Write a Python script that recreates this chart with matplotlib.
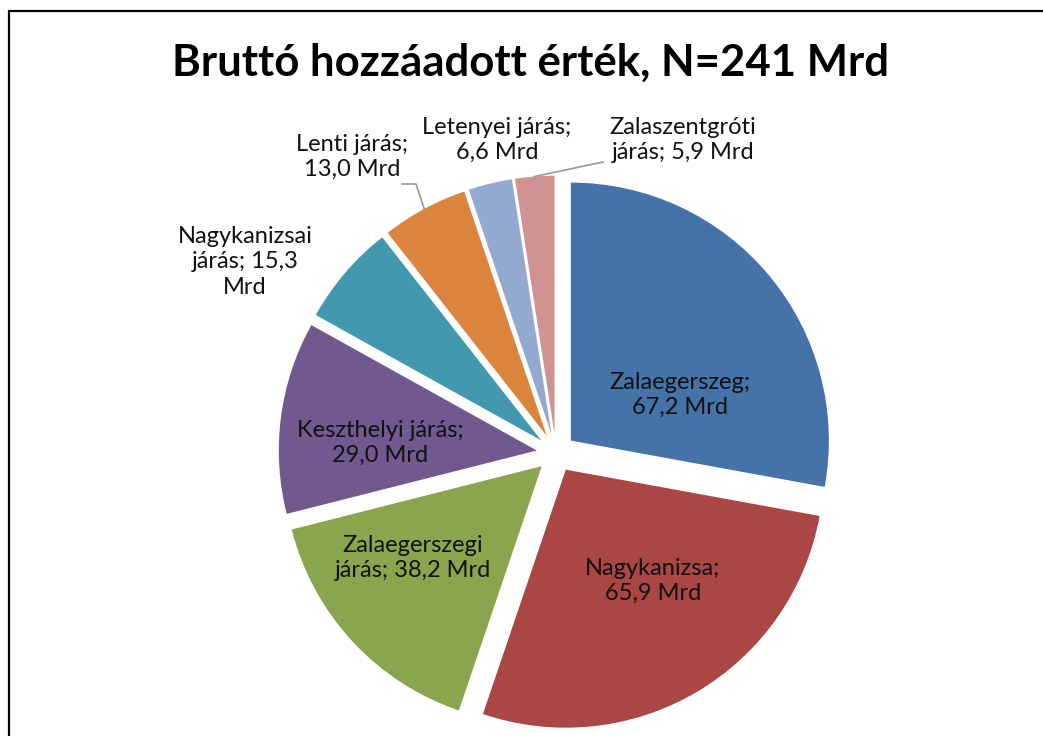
import textwrap

import numpy as np
import matplotlib.pyplot as plt
from matplotlib.patches import Rectangle

# data (billion HUF, gross value added)
names = ["Zalaegerszeg", "Nagykanizsa", "Zalaegerszegi járás", "Keszthelyi járás",
         "Nagykanizsai járás", "Lenti járás", "Letenyei járás", "Zalaszentgróti járás"]
values = [67.2, 65.9, 38.2, 29.0, 15.3, 13.0, 6.6, 5.9]
colors = ["#4572A7", "#AA4643", "#89A54E", "#71588F",
          "#4198AF", "#DB843D", "#93A9CF", "#D19392"]
title = "Bruttó hozzáadott érték, N=241 Mrd"

# layout (pixels, y measured from top)
W, H = 1043, 736
center = (556, 453)
radius = 258
explode = 0.075
wrap_widths = [13, 13, 15, 17, 12, 12, 15, 15]
label_pos = [(680, 395), (653, 581), (413, 558), (380, 443),
             (245, 262), (352, 157), (497, 140), (683, 140)]
# leader lines: label index -> elbow point near the label
leaders = {5: (416, 184), 7: (603, 162)}

plt.rcParams["font.family"] = ["Lato", "DejaVu Sans"]

fig = plt.figure(figsize=(W / 100, H / 100), dpi=100)
ax = fig.add_axes([0, 0, 1, 1])

# explode offsets are in data units, so scale by the radius
wedges, _ = ax.pie(values, colors=colors, startangle=90, counterclock=False,
                   explode=[explode * radius] * len(values), radius=radius,
                   center=(center[0], H - center[1]))
ax.set_xlim(0, W)
ax.set_ylim(0, H)
ax.set_aspect("equal")
ax.axis("off")

for i, (name, v) in enumerate(zip(names, values)):
    txt = textwrap.fill(f"{name}; {v:.1f}".replace(".", ",") + " Mrd", wrap_widths[i])
    x, y = label_pos[i]
    ax.text(x, H - y, txt, ha="center", va="center", fontsize=17,
            color="#111111", linespacing=1.25)

for i, elbow in leaders.items():
    w = wedges[i]
    ang = np.deg2rad((w.theta1 + w.theta2) / 2)
    cx, cy = w.center
    px, py = cx + w.r * np.cos(ang), cy + w.r * np.sin(ang)
    lx, ly = label_pos[i]
    end_x = lx + (50 if lx < center[0] else -80)
    ax.plot([px, elbow[0], end_x], [py, H - elbow[1], H - elbow[1]],
            color="#999999", lw=1.2)

ax.text(531, H - 63, title, ha="center", va="center", fontsize=31.5,
        fontweight="bold", color="black")

# chart frame
ax.add_patch(Rectangle((9, -20), W, H - 11 + 20, fill=False,
                       edgecolor="black", lw=1.6, clip_on=False))

fig.savefig("out.png", dpi=100)
